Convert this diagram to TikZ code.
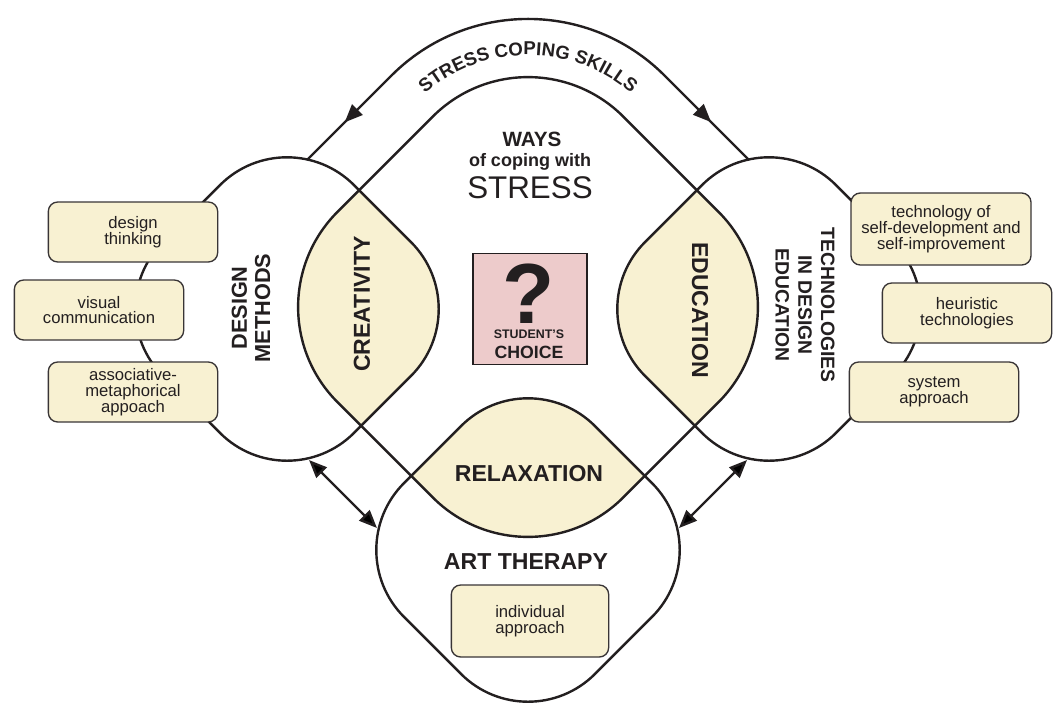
\documentclass[tikz,border=0pt]{standalone}
\usepackage{fontspec}
\setmainfont{Liberation Sans}
\usetikzlibrary{positioning, arrows.meta, decorations.markings, decorations.text}
\definecolor{ink}{RGB}{35,31,32}
\definecolor{cream}{RGB}{248,241,210}
\definecolor{rosy}{RGB}{237,203,203}
\newcommand\roundsq[4]{\path[#1, shift={(#2)}, rotate=45, rounded corners=#4] (-#3,-#3) rectangle (#3,#3);}

\begin{document}
\begin{tikzpicture}[x=0.75pt, y=-0.75pt, >={Triangle[length=13.5pt, width=11pt]},
		blob/.style={draw=ink, line width=1.8pt},
		lens/.style={fill=cream},
		topic/.style={
			rectangle,
			rounded corners=7pt,
			draw=ink!90, fill=cream, line width=1pt,
			text=ink, align=center,
			font=\fontsize{12.5}{11.8}\selectfont,
			minimum width=127pt,
			minimum height=45pt,
			inner sep=2pt},
		bigword/.style={text=ink, font=\bfseries\fontsize{17.3}{18}\selectfont},
		sidelabel/.style={text=ink, align=center, font=\bfseries\fontsize{16.3}{17.3}\selectfont},
		arrow/.style={draw=ink, line width=1.8pt, <->},
		every node/.style={inner sep=1pt}]
		\path[use as bounding box, fill=white] (0,0) rectangle (1056,707);
		% overlaps of the ways with the three fields
		\begin{scope}
			\roundsq{clip}{528,307}{202}{101pt}
			\roundsq{lens}{287,309}{135}{71pt}
			\roundsq{lens}{769,309}{135}{71pt}
			\roundsq{lens}{528,550}{135}{71pt}
		\end{scope}
		\roundsq{blob}{528,307}{202}{101pt}
		\roundsq{blob}{287,309}{135}{71pt}
		\roundsq{blob}{769,309}{135}{71pt}
		\roundsq{blob}{528,550}{135}{71pt}
		\coordinate (skillL) at (307,160);
		\coordinate (skillTop) at (528,-61);
		\coordinate (skillR) at (749,160);
		\draw[blob, rounded corners=144.75pt, postaction={decorate},
			decoration={markings,
				mark=at position 40pt with {\arrowreversed{>}},
				mark=at position -40pt with {\arrow{>}}}]
			(skillL) -- (skillTop) -- (skillR);
		\path[rounded corners=117.75pt, decorate,
			decoration={text along path, text align=center, text color=ink,
				text={|\bfseries\fontsize{14}{14}\selectfont|STRESS COPING SKILLS}}]
			(270,248) -- (528,-10) -- (786,248);
		\node[text=ink, font=\bfseries\fontsize{15.5}{16}\selectfont] (ways) at (532,139) {WAYS};
		\node[text=ink, font=\bfseries\fontsize{13.5}{14}\selectfont] (coping) at (530,162) {of coping with};
		\node[text=ink, font=\fontsize{23.5}{24}\selectfont] (stress) at (530,188) {STRESS};
		\node[draw=ink, line width=1.2pt, fill=rosy, minimum width=85.5pt, minimum height=83pt] (choice) at (530,309) {};
		\node[text=ink, inner sep=0pt, font=\bfseries\fontsize{64}{64}\selectfont] (qmark) at (529,294) {?};
		\node[text=ink, inner sep=0pt, font=\bfseries\fontsize{9.3}{10}\selectfont] (student) at (529,334) {STUDENT'S};
		\node[text=ink, inner sep=0pt, font=\bfseries\fontsize{13.3}{14}\selectfont] (pick) at (529,352) {CHOICE};
		\node[bigword, rotate=90] (creativity) at (362,304) {CREATIVITY};
		\node[bigword, rotate=-90] (education) at (700,310) {EDUCATION};
		\node[bigword] (relax) at (529,474) {RELAXATION};
		\node[bigword] (art) at (526,562) {ART THERAPY};
		\node[sidelabel, rotate=90] (design) at (251,308) {DESIGN\\METHODS};
		\node[sidelabel, rotate=-90, font=\bfseries\fontsize{14.5}{17}\selectfont] (techlab) at (805,305) {TECHNOLOGIES\\IN DESIGN\\EDUCATION};
		\node[topic] (think) at (133,232) {design\\thinking};
		\node[topic] (visual) at (99,310) {visual\\communication};
		\node[topic] (assoc) at (133,392) {associative-\\metaphorical\\appoach};
		\node[topic, minimum width=135pt, minimum height=54pt] (selfdev) at (941,229) {technology of\\self-development and\\self-improvement};
		\node[topic] (heur) at (967,313) {heuristic\\technologies};
		\node[topic] (sysapp) at (934,392) {system\\approach};
		\node[topic, minimum width=118pt, minimum height=54pt] (indiv) at (530,621) {individual\\approach};
		\coordinate (dmA) at (309,460);
		\coordinate (atA) at (377,528);
		\coordinate (teA) at (747,460);
		\coordinate (atB) at (679,528);
		\draw[arrow] (dmA) -- (atA);
		\draw[arrow] (teA) -- (atB);
\end{tikzpicture}
\end{document}
